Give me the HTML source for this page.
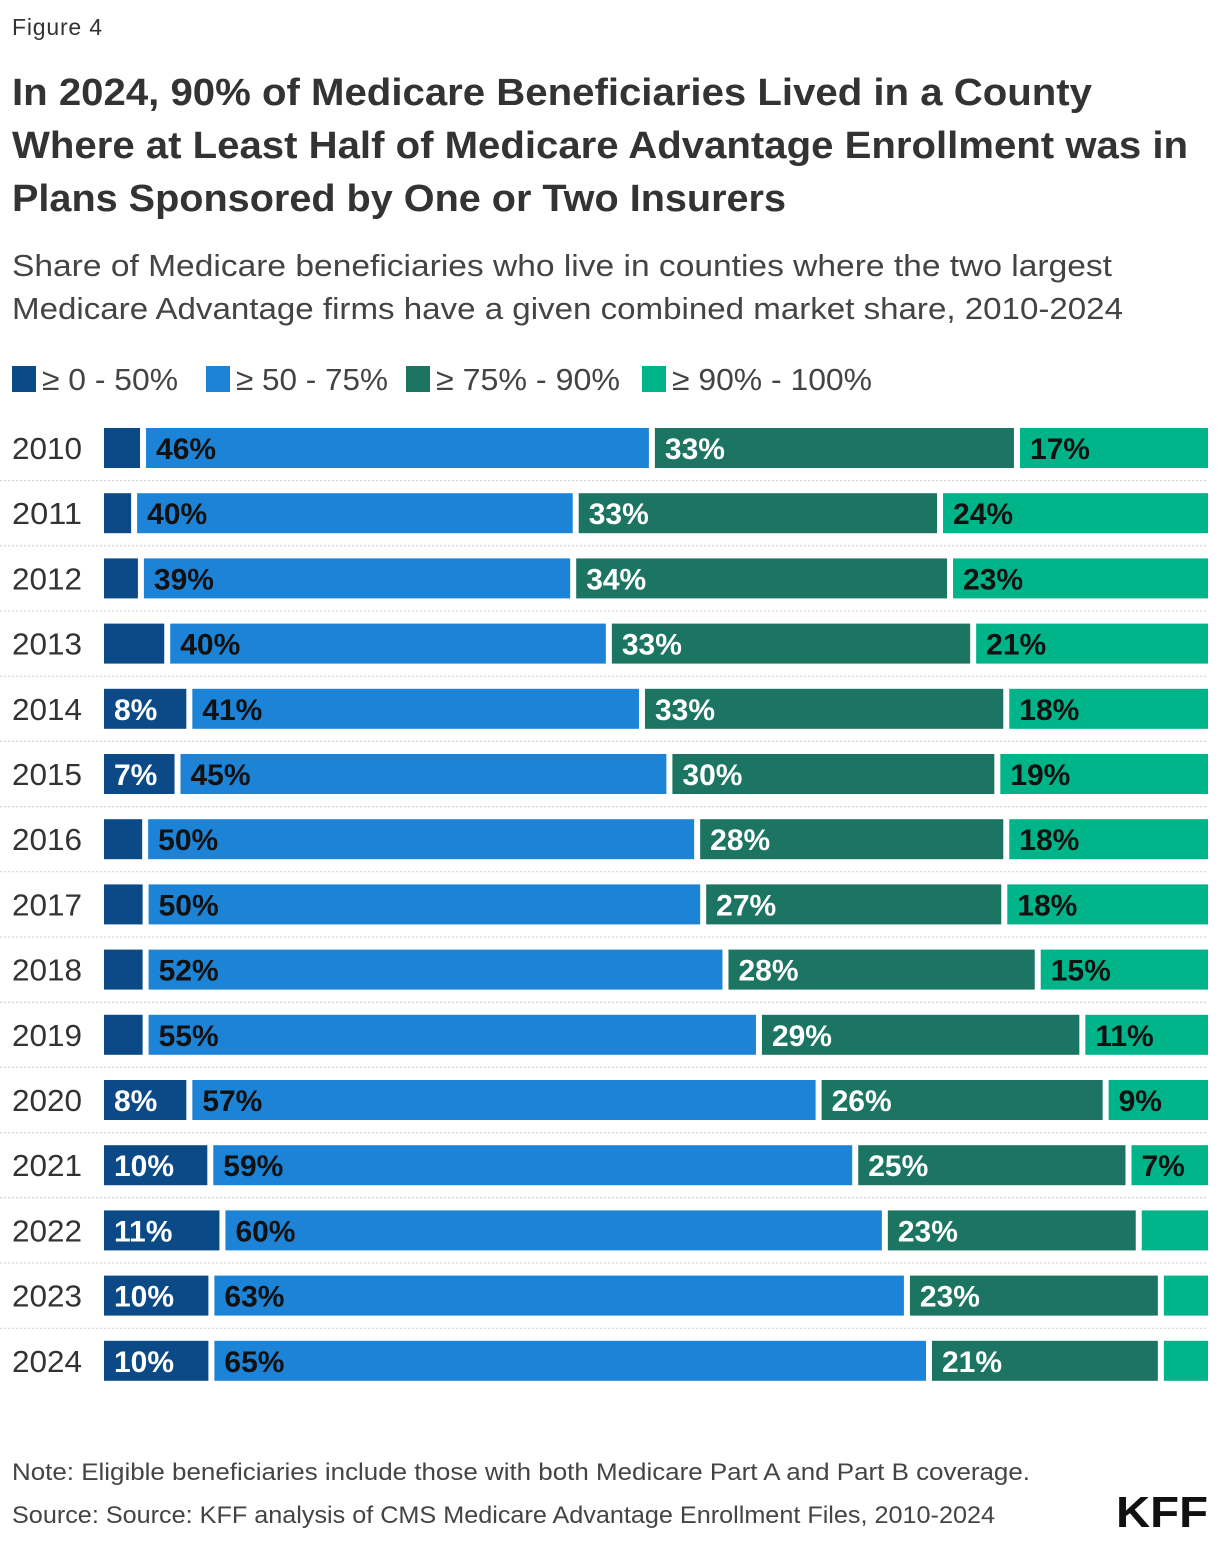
<!DOCTYPE html>
<html><head><meta charset="utf-8"><style>
html,body{margin:0;padding:0;background:#fff;}
svg{display:block;font-family:"Liberation Sans",sans-serif;}
</style></head><body>
<svg id="chart" width="1220" height="1542" viewBox="0 0 1220 1542">
<text x="12" y="35" font-size="23" fill="#333" textLength="90">Figure 4</text>
<g font-weight="bold" font-size="38" fill="#333">
<text x="12" y="105" textLength="1080" lengthAdjust="spacingAndGlyphs">In 2024, 90% of Medicare Beneficiaries Lived in a County</text>
<text x="12" y="158" textLength="1176" lengthAdjust="spacingAndGlyphs">Where at Least Half of Medicare Advantage Enrollment was in</text>
<text x="12" y="211" textLength="774" lengthAdjust="spacingAndGlyphs">Plans Sponsored by One or Two Insurers</text>
</g>
<g font-size="31" fill="#444">
<text x="12" y="276" textLength="1100" lengthAdjust="spacingAndGlyphs">Share of Medicare beneficiaries who live in counties where the two largest</text>
<text x="12" y="319" textLength="1111" lengthAdjust="spacingAndGlyphs">Medicare Advantage firms have a given combined market share, 2010-2024</text>
</g>
<g id="legend" font-size="31" fill="#444"></g>
<g id="bars"></g>
<g font-size="24" fill="#444">
<text x="12" y="1480" textLength="1018" lengthAdjust="spacingAndGlyphs">Note: Eligible beneficiaries include those with both Medicare Part A and Part B coverage.</text>
<text x="12" y="1523" textLength="983" lengthAdjust="spacingAndGlyphs">Source: Source: KFF analysis of CMS Medicare Advantage Enrollment Files, 2010-2024</text>
</g>
<text x="1208" y="1527" text-anchor="end" font-size="44" font-weight="bold" fill="#111" textLength="92" lengthAdjust="spacingAndGlyphs">KFF</text>
</svg>
<script>
const years = ["2010","2011","2012","2013","2014","2015","2016","2017","2018","2019","2020","2021","2022","2023","2024"];
const s0to50 = [3.8,3,3.6,6,8,7,4,4,4,4,8,10,11,10,10];
const s50to75 = [46,40,39,40,41,45,50,50,52,55,57,59,60,63,65];
const s75to90 = [33,33,34,33,33,30,28,27,28,29,26,25,23,23,21];
const s90to100 = [17,24,23,21,18,19,18,18,15,11,9,7,6,4,4];
const seriesNames = ["≥ 0 - 50%","≥ 50 - 75%","≥ 75% - 90%","≥ 90% - 100%"];
const colors = ["#0b4a86","#1d83d6","#1b7562","#00b48a"];
const textColors = ["#fff","#111","#fff","#111"];
const NS="http://www.w3.org/2000/svg";
const X0=104,X1=1208,ROW0=448,STEP=65.2,BH=40,GAP=6;
function mk(tag,attrs,parent){const e=document.createElementNS(NS,tag);for(const k in attrs)e.setAttribute(k,attrs[k]);parent.appendChild(e);return e;}
const lg=document.getElementById('legend');
const lx=[12,206,406,642];
const lw=[136,152,184,200];
seriesNames.forEach((n,i)=>{
  const r=mk('rect',{x:lx[i],y:366,width:24,height:26,fill:colors[i]},lg);
  
  
  const t=mk('text',{x:lx[i]+30,y:390,textLength:lw[i],lengthAdjust:'spacingAndGlyphs'},lg);t.textContent=n;
  
  
});
const g=document.getElementById('bars');
const series=[s0to50,s50to75,s75to90,s90to100];
years.forEach((yr,i)=>{
  const cy=ROW0+i*STEP;
  const yl=mk('text',{x:12,y:cy+11,'font-size':31,fill:'#333',textLength:70,lengthAdjust:'spacingAndGlyphs'},g);yl.textContent=yr;
  
  
  if(i<years.length-1){const ln=mk('line',{x1:0,x2:X1,y1:cy+STEP/2,y2:cy+STEP/2,stroke:'#ccc','stroke-dasharray':'2,2'},g);
    
    }
  const total=series.reduce((a,s)=>a+s[i],0);
  const xs=v=>X0+v/total*(X1-X0);
  let cum=0;
  series.forEach((s,j)=>{
    const v=s[i];const a=xs(cum),b=xs(cum+v);cum+=v;
    const x=a;
    const e=j===series.length-1?X1:b-GAP;
    const r=mk('rect',{x:x,y:cy-BH/2,width:Math.max(0,e-x),height:BH,fill:colors[j]},g);
    
    
    if(v>=7){const t=mk('text',{x:x+10,y:cy+11,'font-size':30,'font-weight':'bold',fill:textColors[j]},g);t.textContent=Math.round(v)+'%';
      
      }
  });
});
</script>
</body></html>
